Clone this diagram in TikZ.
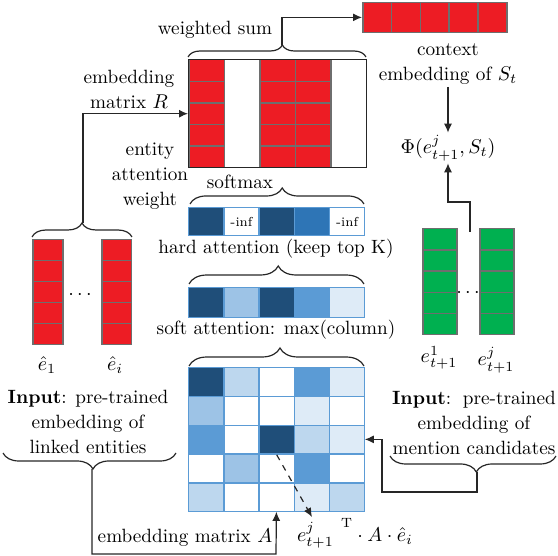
\documentclass[tikz,border=0pt]{standalone}
\usepackage{fontspec}
\usetikzlibrary{decorations.pathreplacing,arrows.meta,calc}
\definecolor{redf}{HTML}{ED1C24}
\definecolor{cellgray}{HTML}{6E6E6E}
\definecolor{navy}{HTML}{1F4E79}
\definecolor{bmid}{HTML}{2E75B6}
\definecolor{bm}{HTML}{5B9BD5}
\definecolor{bl}{HTML}{9DC3E6}
\definecolor{bll}{HTML}{BDD7EE}
\definecolor{blll}{HTML}{DEEBF7}
\definecolor{greenf}{HTML}{00B050}
\definecolor{linec}{HTML}{262626}
\begin{document}
\begin{tikzpicture}[x=0.5pt,y=-0.5pt,
  font=\fontsize{9.6}{12.5}\selectfont,
  every node/.style={inner sep=1pt},
  lbl/.style={align=center},
  redcell/.style={draw=cellgray,fill=redf,line width=0.75pt,minimum width=#1,minimum height=10.8pt,anchor=north west,inner sep=0pt},
  greencell/.style={draw=cellgray,fill=greenf,line width=0.75pt,minimum width=17pt,minimum height=10.6pt,anchor=north west,inner sep=0pt},
  bluecell/.style={draw=bm,fill=#1,line width=0.7pt,minimum width=17.6pt,anchor=north west,inner sep=0pt},
  conn/.style={draw=linec,line width=0.6pt},
  arr/.style={conn,-{Latex[length=4.5pt,width=4pt]}},
  bracestyle/.style={draw=linec,line width=0.6pt,decorate,decoration={brace,amplitude=#1}},
  smalltext/.style={font=\fontsize{6.5}{7}\selectfont}
]
\useasboundingbox (0,0) rectangle (558,556);

% ---------------- embedding matrix R ----------------
\foreach \c in {0,2,3}{
  \foreach \r in {0,...,4}{
    \node[redcell=17.8pt] (R-\r-\c) at ({188+\c*35.6},{59+\r*21.6}) {};
  }
}
\node[draw=linec,line width=0.7pt,minimum width=89pt,minimum height=54pt,anchor=north west,inner sep=0pt] (R) at (188,59) {};

% ---------------- context embedding ----------------
\foreach \c in {0,...,4}{
  \node[redcell=14.4pt,minimum height=15pt] (C-\c) at ({362+\c*28.8},2) {};
}
\node[minimum width=72pt,minimum height=15pt,anchor=north west,inner sep=0pt] (ctx) at (362,2) {};

% ---------------- left entity columns ----------------
\foreach \r in {0,...,4}{
  \node[redcell=15pt,minimum height=10.5pt] (L1-\r) at (32,{239+\r*21}) {};
  \node[redcell=14.75pt,minimum height=10.5pt] (L2-\r) at (101,{239+\r*21}) {};
}
\node (ldots) at (80,295) {$\cdots$};
\node (e1) at (47,365) {$\hat{e}_1$};
\node (ei) at (115,365) {$\hat{e}_i$};

% ---------------- green candidate columns ----------------
\foreach \r in {0,...,4}{
  \node[greencell] (G1-\r) at (422,{228+\r*21.2}) {};
  \node[greencell] (G2-\r) at (479,{228+\r*21.2}) {};
}
\node (gdots) at (468,293) {$\cdots$};
\node (g1) at (439,358) {$e_{t+1}^{1}$};
\node (gj) at (496,360) {$e_{t+1}^{j}$};

% ---------------- hard attention row ----------------
\foreach \col [count=\c from 0] in {navy,white,navy,bmid,white}{
  \node[bluecell=\col,minimum height=14pt] (H-\c) at ({188+\c*35.2},207) {};
}
\node[smalltext] at (H-1) {-inf};
\node[smalltext] at (H-4) {-inf};

% ---------------- soft attention row ----------------
\foreach \col [count=\c from 0] in {navy,bl,navy,bm,blll}{
  \node[bluecell=\col,minimum height=15pt] (S-\c) at ({188+\c*35.2},287) {};
}

% ---------------- similarity matrix ----------------
\foreach \r/\cols in {0/{navy,bll,white,bm,blll},1/{bl,white,white,blll,white},2/{bm,white,navy,bll,blll},3/{white,bl,white,bm,white},4/{bll,white,white,blll,bll}}{
  \foreach \col [count=\c from 0] in \cols {
    \node[bluecell=\col,minimum height=14.4pt] (M-\r-\c) at ({188+\c*35.2},{367+\r*28.8}) {};
  }
}
\node[minimum width=88pt,minimum height=72pt,anchor=north west,inner sep=0pt] (M) at (188,367) {};

% ---------------- braces ----------------
\draw[bracestyle=6pt,decoration={aspect=0.53}] (188,57) -- (366,57);
\coordinate (wtip) at (282,45);
\draw[bracestyle=8pt,decoration={aspect=0.53}] (190,204) -- (364,204);
\draw[bracestyle=9pt,decoration={aspect=0.51}] (189,284) -- (364,284);
\draw[bracestyle=9pt,decoration={aspect=0.52}] (189,366) -- (364,366);
\draw[bracestyle=7pt] (32,237) -- (132,237);
\coordinate (ltip) at (83,223);
\draw[bracestyle=8pt,decoration={mirror,aspect=0.52}] (3,453) -- (176,453);
\coordinate (lbtip) at (92,469);
\draw[bracestyle=8pt,decoration={mirror,aspect=0.52}] (390,456) -- (556,456);
\coordinate (rbtip) at (477,472);

% ---------------- text labels ----------------
\node[lbl] (ws) at (215,30) {weighted sum};
\node[lbl] (embR) at (129,89) {embedding\\matrix $R$};
\node[lbl] (eaw) at (150,176) {entity\\attention\\weight};
\node[lbl] (sm) at (240,182) {softmax};
\node[lbl] (hard) at (276,249) {hard attention (keep top K)};
\node[lbl] (soft) at (276,330) {soft attention: max(column)};
\node[lbl] (ctxlbl) at (448,64) {context\\embedding of $S_t$};
\node[lbl] (phi) at (448,148) {$\Phi(e_{t+1}^{j},S_t)$};
\node[lbl] (linput) at (88,422) {\textbf{Input}: pre-trained\\embedding of\\linked entities};
\node[lbl] (rinput) at (474,423) {\textbf{Input}:\, pre-trained\\embedding of\\mention candidates};
\node[lbl] (embA) at (185,538) {embedding matrix $A$};
\node[lbl] (prod) at (355,533) {${e_{t+1}^{j}}^{\;\,\mathrm{T}}\cdot A\cdot \hat{e}_i$};

% ---------------- connectors ----------------
\draw[arr] (wtip) |- (ctx.west);
\draw[arr] (ltip) |- (R.west);
\draw[arr] (ctxlbl.south) -- (phi.north);
\coordinate (gtop) at (470,232);
\coordinate (gbend) at (470,202);
\draw[arr] (gtop) -- (gbend) -| (phi.south);
\coordinate (abend) at (276,554);
\draw[arr] (lbtip) |- (abend) -- (M.south);
\coordinate (rbend) at (382,492);
\draw[arr] (rbtip) |- (rbend) |- (M.east);
\coordinate (dtip) at (312,517);
\draw[arr,dashed] (M-2-2.south) -- (dtip);
\end{tikzpicture}
\end{document}
